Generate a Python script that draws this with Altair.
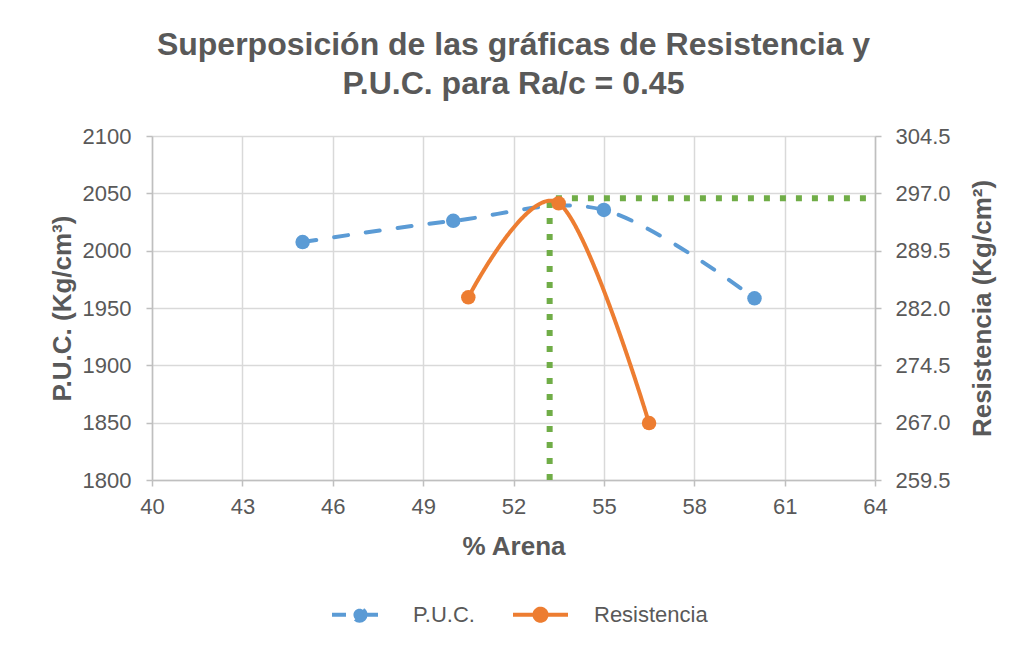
import altair as alt
import pandas as pd

# Data
puc_x = [45, 50, 55, 60]
puc_y = [2007.5, 2026, 2035.5, 1958.5]
res_x = [50.5, 53.5, 56.5]
res_y = [283.4, 295.7, 266.95]
opt_x = [53.2, 53.2, 64]
opt_y = [1800, 2045.7, 2045.7]
x_ticks = [40, 43, 46, 49, 52, 55, 58, 61, 64]
left_ticks = [1800, 1850, 1900, 1950, 2000, 2050, 2100]
right_ticks = [259.5, 267.0, 274.5, 282.0, 289.5, 297.0, 304.5]
series = ["P.U.C.", "Resistencia"]

BLUE = "#5b9bd5"
ORANGE = "#ed7d31"
GREEN = "#70ad47"
TXT = "#595959"
AX = "#bfbfbf"
GRID = "#d9d9d9"
FONT = "Liberation Sans"

df_puc = pd.DataFrame({"x": puc_x, "y": puc_y, "s": series[0]})
df_res = pd.DataFrame({"x": res_x, "y": res_y, "s": series[1]})
df_opt = pd.DataFrame({"x": opt_x, "y": opt_y, "o": list(range(len(opt_x)))})

xscale = alt.Scale(domain=[40, 64], nice=False, zero=False)
lscale = alt.Scale(domain=[1800, 2100], nice=False, zero=False)
rscale = alt.Scale(domain=[259.5, 304.5], nice=False, zero=False)

xaxis = alt.Axis(values=x_ticks, title="% Arena", grid=True, titleX=361.5, titleY=66,
                 titleBaseline="middle", labelFlush=False)
laxis = alt.Axis(values=left_ticks, format="d", title="P.U.C. (Kg/cm³)", grid=True, titleX=-90,
                 titleY=172, titleBaseline="middle", labelFlush=False, labelPadding=15)
raxis = alt.Axis(values=right_ticks, format=".1f", title="Resistencia (Kg/cm²)", grid=False,
                 orient="right", titleAngle=270, titleX=107, titleY=172, titleBaseline="middle",
                 labelFlush=False, labelPadding=14)

SYM = "M-1,0L1,0M0.22,0A0.22,0.22 0 1 1 -0.22,0A0.22,0.22 0 1 1 0.22,0"

def make_legend():
    return alt.Legend(title=None, orient="none", legendX=178, legendY=449,
                      direction="horizontal", symbolType=SYM, symbolSize=3025,
                      symbolStrokeWidth=4, labelFontSize=22, labelColor=TXT,
                      labelFont=FONT, labelOffset=24, columnPadding=30, symbolOpacity=1)

cscale = alt.Scale(domain=series, range=[BLUE, ORANGE])
color = alt.Color("s:N", scale=cscale, legend=make_legend())
dash = alt.StrokeDash("s:N", scale=alt.Scale(domain=series, range=[[14, 18], [1, 0]]),
                      legend=make_legend())

opt = alt.Chart(df_opt).mark_line(color=GREEN, strokeWidth=6, strokeDash=[6, 10],
                                  strokeCap="butt").encode(
    x=alt.X("x:Q", scale=xscale, axis=xaxis),
    y=alt.Y("y:Q", scale=lscale, axis=laxis),
    order="o:Q",
)
puc_line = alt.Chart(df_puc).mark_line(strokeWidth=4, strokeCap="round",
                                       interpolate="cardinal", tension=0).encode(
    x=alt.X("x:Q", scale=xscale),
    y=alt.Y("y:Q", scale=lscale),
    color=color,
    strokeDash=dash,
)
puc_pts = alt.Chart(df_puc).mark_point(filled=True, size=210, opacity=1).encode(
    x=alt.X("x:Q", scale=xscale),
    y=alt.Y("y:Q", scale=lscale),
    color=color,
)
left = alt.layer(opt, puc_line, puc_pts)

res_line = alt.Chart(df_res).mark_line(strokeWidth=4, strokeCap="round",
                                       interpolate="cardinal", tension=0).encode(
    x=alt.X("x:Q", scale=xscale),
    y=alt.Y("y:Q", scale=rscale, axis=raxis),
    color=color,
    strokeDash=dash,
)
res_pts = alt.Chart(df_res).mark_point(filled=True, size=210, opacity=1).encode(
    x=alt.X("x:Q", scale=xscale),
    y=alt.Y("y:Q", scale=rscale),
    color=color,
)
right = alt.layer(res_line, res_pts)

border = alt.Chart(pd.DataFrame({"a": [0]})).mark_rule(color=GRID, strokeWidth=1.5).encode(
    x=alt.value(-145), y=alt.value(-136), y2=alt.value(520)
)

chart = alt.layer(left, right, border).resolve_scale(y="independent").properties(
    width=723, height=344,
    autosize=alt.AutoSizeParams(type="none"),
    padding={"left": 144, "top": 128, "right": 133, "bottom": 158},
    title=alt.TitleParams(
        text=["Superposición de las gráficas de Resistencia y", "P.U.C. para Ra/c = 0.45"],
        fontSize=32, font=FONT, fontWeight="bold", color=TXT, anchor="middle",
        lineHeight=39, baseline="bottom", offset=-134, frame="group",
    ),
).configure_view(stroke=None).configure_axis(
    labelFont=FONT, labelFontSize=22, labelColor=TXT, titleFont=FONT, titleFontSize=26,
    titleFontWeight="bold", titleColor=TXT, domainColor=AX, domainWidth=1.5, tickColor=AX,
    tickWidth=1.5, tickSize=6, gridColor=GRID, gridWidth=1.5, labelPadding=12,
).configure_axisX(labelPadding=10)

chart.save("out.html", embed_options={"renderer": "svg", "actions": False})
